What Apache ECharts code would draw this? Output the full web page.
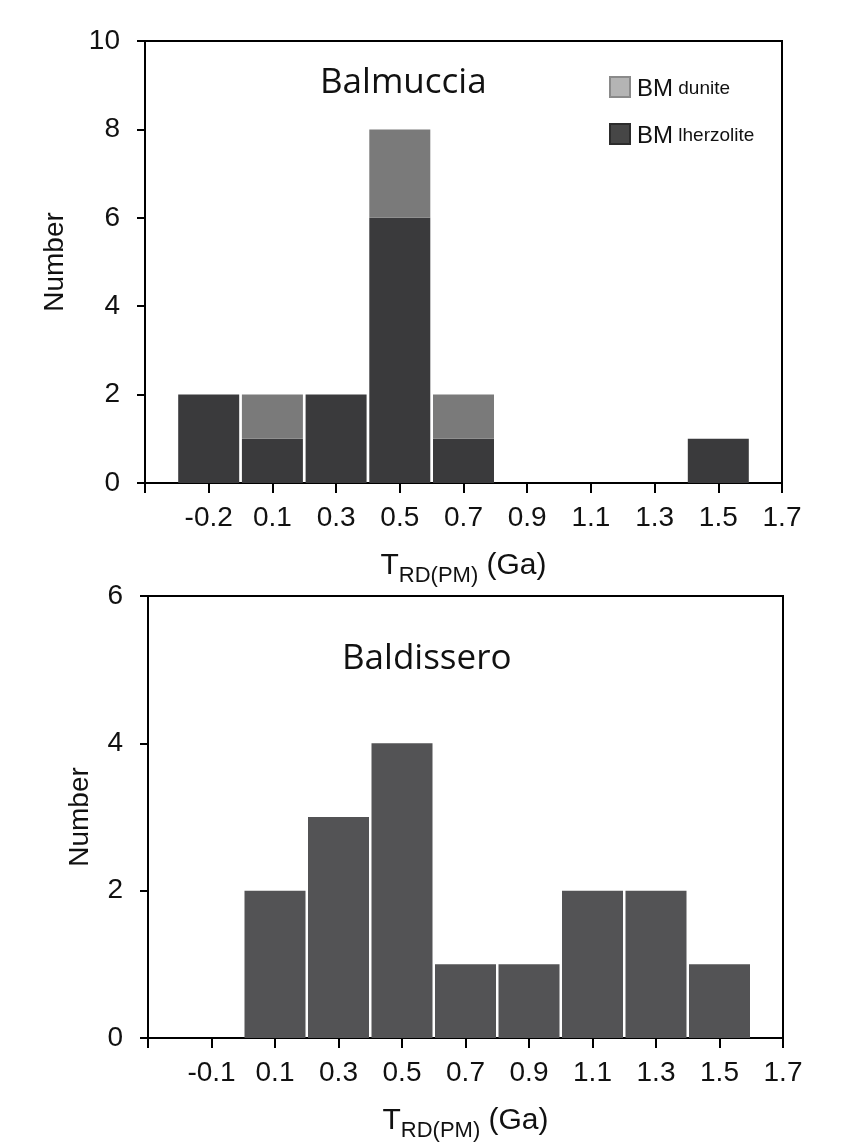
<!DOCTYPE html>
<html>
<head>
<meta charset="utf-8">
<script src="https://cdn.jsdelivr.net/npm/echarts@6/dist/echarts.min.js"></script>
<style>
html,body{margin:0;padding:0;background:#fff;}
#c{width:848px;height:1144px;}
</style>
</head>
<body>
<div id="c"></div>
<script>
// ---- data ----
const topCategories = ['', '-0.2', '0.1', '0.3', '0.5', '0.7', '0.9', '1.1', '1.3', '1.5', '1.7'];
const topLherzolite = [0, 2, 1, 2, 6, 1, 0, 0, 0, 1, 0];
const topDunite     = [0, 0, 1, 0, 2, 1, 0, 0, 0, 0, 0];
const bottomCategories = ['', '-0.1', '0.1', '0.3', '0.5', '0.7', '0.9', '1.1', '1.3', '1.5', '1.7'];
const bottomValues     = [0, 0, 2, 3, 4, 1, 1, 2, 2, 1, 0];
const topTitle = 'Balmuccia';
const bottomTitle = 'Baldissero';

const FONT = '"Liberation Sans", Arial, sans-serif';
const chart = echarts.init(document.getElementById('c'), null, {renderer: 'canvas'});

const xName = '{t|T}{s|RD(PM)}{t| (Ga)}';
const xNameRich = {
  t: {fontSize: 30, fontFamily: FONT, color: '#111', verticalAlign: 'bottom', lineHeight: 34},
  s: {fontSize: 22, fontFamily: FONT, color: '#111', verticalAlign: 'bottom', lineHeight: 34, padding: [0, 0, -6, 0]}
};

function xAxis(idx, cats) {
  return {
    type: 'category', gridIndex: idx, data: cats, boundaryGap: false,
    axisLine: {lineStyle: {color: '#000', width: 2}},
    axisTick: {show: true, interval: 0, length: 10, lineStyle: {color: '#000', width: 2}},
    axisLabel: {interval: 0, fontSize: 28, fontFamily: FONT, color: '#111', margin: 21},
    name: xName, nameLocation: 'middle', nameGap: 64,
    nameTextStyle: {rich: xNameRich},
    splitLine: {show: false}
  };
}
function yAxis(idx, max, gap) {
  return {
    type: 'value', gridIndex: idx, min: 0, max: max, interval: 2,
    axisLine: {show: true, lineStyle: {color: '#000', width: 2}},
    axisTick: {show: true, length: 8, lineStyle: {color: '#000', width: 2}},
    axisLabel: {fontSize: 28, fontFamily: FONT, color: '#111', margin: 25},
    splitLine: {show: false},
    name: 'Number', nameLocation: 'middle', nameGap: gap,
    nameTextStyle: {fontSize: 28, fontFamily: FONT, color: '#111'}
  };
}

chart.setOption({
  backgroundColor: '#fff',
  animation: false,
  title: [
    {text: topTitle, left: 315, top: 61, textStyle: {fontFamily: '"Open Sans", sans-serif', fontWeight: 'normal', fontSize: 35, color: '#111'}},
    {text: bottomTitle, left: 337, top: 637, textStyle: {fontFamily: '"Open Sans", sans-serif', fontWeight: 'normal', fontSize: 35, color: '#111'}}
  ],
  legend: {
    data: [
      {name: 'BM dunite', itemStyle: {color: '#b4b4b4', borderColor: '#8a8a8a', borderWidth: 2}},
      {name: 'BM lherzolite', itemStyle: {color: '#464646', borderColor: '#2c2c2c', borderWidth: 2}}
    ],
    orient: 'vertical', left: 604, top: 71,
    itemWidth: 20, itemHeight: 20, itemGap: 22, icon: 'rect',
    formatter: function (name) { return '{a|BM}{b|' + name.replace('BM', '') + '}'; },
    textStyle: {
      padding: [0, 0, 0, 2],
      rich: {
        a: {fontSize: 24, fontFamily: FONT, color: '#111', lineHeight: 28, verticalAlign: 'bottom'},
        b: {fontSize: 19, fontFamily: FONT, color: '#111', lineHeight: 28, verticalAlign: 'bottom', padding: [0, 0, 3, 0]}
      }
    }
  },
  grid: [
    {left: 145, right: 66, top: 41, bottom: 661, show: true, borderColor: '#000', borderWidth: 2, containLabel: false},
    {left: 148, right: 65, top: 596, bottom: 106, show: true, borderColor: '#000', borderWidth: 2, containLabel: false}
  ],
  xAxis: [xAxis(0, topCategories), xAxis(1, bottomCategories)],
  yAxis: [yAxis(0, 10, 76), yAxis(1, 6, 54)],
  series: [
    {name: 'BM lherzolite', type: 'bar', xAxisIndex: 0, yAxisIndex: 0, stack: 'top', data: topLherzolite,
     barWidth: 61, itemStyle: {color: '#3a3a3c'}},
    {name: 'BM dunite', type: 'bar', xAxisIndex: 0, yAxisIndex: 0, stack: 'top', data: topDunite,
     barWidth: 61, itemStyle: {color: '#7a7a7a'}},
    {name: 'Baldissero', type: 'bar', xAxisIndex: 1, yAxisIndex: 1, data: bottomValues,
     barWidth: 61, itemStyle: {color: '#535355'}}
  ]
});
</script>
</body>
</html>
